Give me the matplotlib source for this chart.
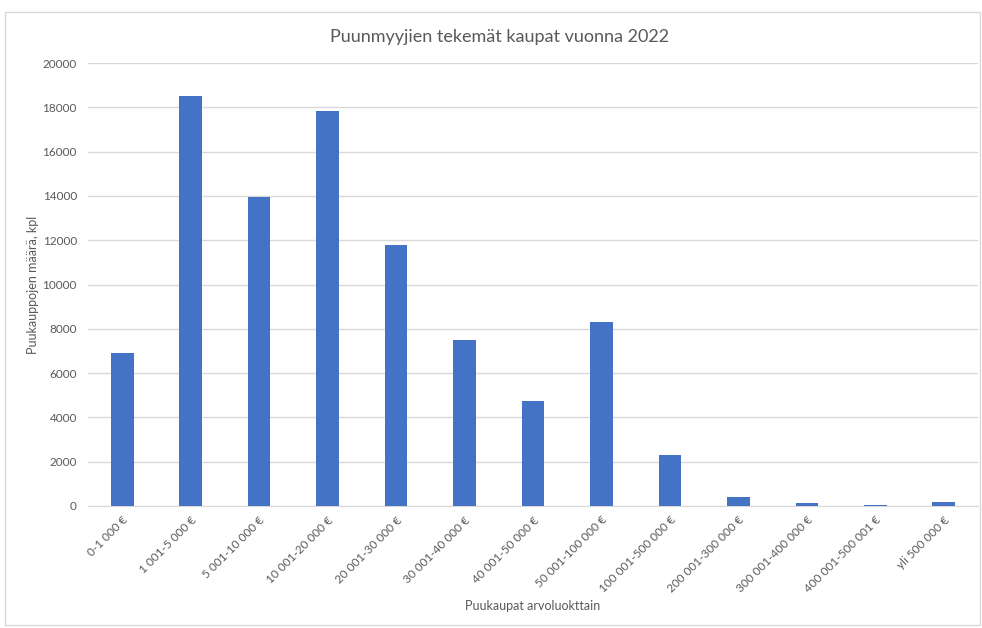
import matplotlib.pyplot as plt
from matplotlib.patches import Rectangle
import numpy as np

categories = [
    "0-1 000 €", "1 001-5 000 €", "5 001-10 000 €", "10 001-20 000 €",
    "20 001-30 000 €", "30 001-40 000 €", "40 001-50 000 €", "50 001-100 000 €",
    "100 001-500 000 €", "200 001-300 000 €", "300 001-400 000 €",
    "400 001-500 001 €", "yli 500 000 €",
]
counts = [6900, 18500, 13950, 17830, 11780, 7490, 4740, 8300, 2300, 400, 150, 40, 180]
yticks = [0, 2000, 4000, 6000, 8000, 10000, 12000, 14000, 16000, 18000, 20000]

plt.rcParams["font.family"] = ["Lato", "DejaVu Sans"]
text_color = "#595959"
grid_color = "#d9d9d9"

fig = plt.figure(figsize=(9.82, 6.28), dpi=100)
fig.patches.append(Rectangle((5 / 982, 3 / 628), 975 / 982, 613 / 628, transform=fig.transFigure,
                             fill=False, edgecolor="#d9d9d9", linewidth=1))
ax = fig.add_axes([88 / 982, 1 - 506 / 628, 890 / 982, 443 / 628])

x = np.arange(len(categories))
ax.bar(x, counts, width=0.33, color="#4472C4", zorder=3)
ax.set_xlim(-0.5, len(categories) - 0.5)
ax.set_ylim(0, 20000)
ax.set_yticks(yticks)
ax.set_yticklabels([str(v) for v in yticks])
ax.set_xticks(x)
ax.set_xticklabels(categories, rotation=45, ha="right", rotation_mode="anchor")
ax.tick_params(axis="both", length=0, colors=text_color, labelsize=8.5)
ax.tick_params(axis="y", pad=8)
ax.tick_params(axis="x", pad=6)
ax.grid(axis="y", color=grid_color, linewidth=1, zorder=0)
for side in ["top", "right", "left"]:
    ax.spines[side].set_visible(False)
ax.spines["bottom"].set_color(grid_color)

fig.text(500 / 982, 1 - 37 / 628, "Puunmyyjien tekemät kaupat vuonna 2022", ha="center", va="center",
         fontsize=13, color=text_color)
fig.text(33 / 982, 1 - 285 / 628, "Puukauppojen määrä, kpl", ha="center", va="center",
         rotation=90, fontsize=9, color=text_color)
fig.text(533 / 982, 1 - 606 / 628, "Puukaupat arvoluokttain", ha="center", va="center",
         fontsize=9, color=text_color)

fig.savefig("out.png", dpi=100)
